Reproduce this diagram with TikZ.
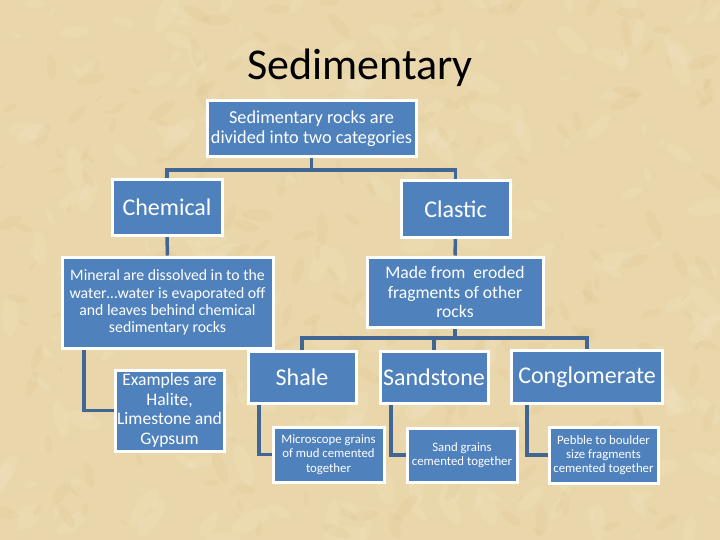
\documentclass[tikz,border=0pt]{standalone}
\usepackage{fontspec}
\setmainfont{Carlito}
\usetikzlibrary{backgrounds}
\definecolor{parch}{RGB}{233,214,170}
\definecolor{parchlight}{RGB}{243,230,200}
\definecolor{parchdark}{RGB}{218,194,144}
\definecolor{boxblue}{RGB}{79,129,189}
\definecolor{linkblue}{RGB}{66,102,148}
\tikzset{
  box/.style={draw=white, line width=3pt, fill=boxblue, text=white, inner sep=1pt, align=center},
  link/.style={draw=linkblue, line width=3.5pt},
  fsA/.style={font=\fontsize{18.3}{20}\selectfont},
  fsB/.style={font=\fontsize{24}{26}\selectfont},
  fsC/.style={font=\fontsize{15.8}{17.2}\selectfont},
  fsD/.style={font=\fontsize{17.6}{19.6}\selectfont},
  fsE/.style={font=\fontsize{12.8}{14.2}\selectfont},
}
\begin{document}
\begin{tikzpicture}[x=1pt,y=-1pt]
\useasboundingbox (0,0) rectangle (720,540);
\begin{pgfonlayer}{background}
\fill[parch] (0,0) rectangle (720,540);
\pgfmathsetseed{7}
\foreach \i in {1,...,260}{
  \pgfmathsetmacro{\xx}{random(0,720)}
  \pgfmathsetmacro{\yy}{random(0,540)}
  \pgfmathsetmacro{\rr}{random(5,22)}
  \pgfmathsetmacro{\aa}{random(0,180)}
  \fill[parchlight,opacity=0.22,rotate around={\aa:(\xx,\yy)}] (\xx,\yy) ellipse ({\rr pt} and {0.4*\rr pt});
}
\foreach \i in {1,...,260}{
  \pgfmathsetmacro{\xx}{random(0,720)}
  \pgfmathsetmacro{\yy}{random(0,540)}
  \pgfmathsetmacro{\rr}{random(4,16)}
  \pgfmathsetmacro{\aa}{random(0,180)}
  \fill[parchdark,opacity=0.2,rotate around={\aa:(\xx,\yy)}] (\xx,\yy) ellipse ({\rr pt} and {0.35*\rr pt});
}
\end{pgfonlayer}
\node[font=\fontsize{44}{48}\selectfont] (title) at (360,68) {Sedimentary};
\node[box,fsA,minimum width=209pt,minimum height=56pt] (top) at (311.5,129) {Sedimentary rocks are\\divided into two categories};
\node[box,fsB,minimum width=110pt,minimum height=55pt] (chem) at (167,207.5) {Chemical};
\node[box,fsB,minimum width=109pt,minimum height=56pt] (clas) at (455.5,209) {Clastic};
\node[box,fsC,minimum width=211pt,minimum height=91pt] (mineral) at (167.5,302.5) {Mineral are dissolved in to the\\water…water is evaporated off\\and leaves behind chemical\\sedimentary rocks};
\node[box,fsD,minimum width=176pt,minimum height=70pt] (made) at (455,292) {Made from~ eroded\\fragments of other\\rocks};
\node[box,fsD,minimum width=109pt,minimum height=81pt] (examples) at (169.5,410.5) {Examples are\\Halite,\\Limestone and\\Gypsum};
\node[box,fsB,minimum width=108pt,minimum height=52pt] (shale) at (302,377) {Shale};
\node[box,fsB,minimum width=108pt,minimum height=52pt] (sand) at (434,377) {Sandstone};
\node[box,fsB,minimum width=151pt,minimum height=53pt] (cong) at (587,377) {Conglomerate};
\node[box,fsE,minimum width=111pt,minimum height=55pt] (micro) at (328.5,454.5) {Microscope grains\\of mud cemented\\together};
\node[box,fsE,minimum width=110pt,minimum height=54pt] (sgrains) at (462,455) {Sand grains\\cemented together};
\node[box,fsE,minimum width=109pt,minimum height=56pt] (pebble) at (603.5,455) {Pebble to boulder\\size fragments\\cemented together};
\coordinate (j1) at (311.5,170);
\coordinate (j2) at (455,338);
\begin{pgfonlayer}{background}
\draw[link] (top.south) -- (j1) -| (chem.north);
\draw[link] (j1) -| (clas.north);
\draw[link] (chem.south) -- (mineral.north);
\draw[link] (clas.south) -- (made.north);
\draw[link] ([xshift=-83.5pt]mineral.south) |- (examples.west);
\draw[link] (made.south) -- (j2) -| (shale.north);
\draw[link] (j2) -| (sand.north);
\draw[link] (j2) -| (cong.north);
\draw[link] ([xshift=-43pt]shale.south) |- (micro.west);
\draw[link] ([xshift=-43pt]sand.south) |- (sgrains.west);
\draw[link] ([xshift=-60pt]cong.south) |- (pebble.west);
\end{pgfonlayer}
\end{tikzpicture}
\end{document}
